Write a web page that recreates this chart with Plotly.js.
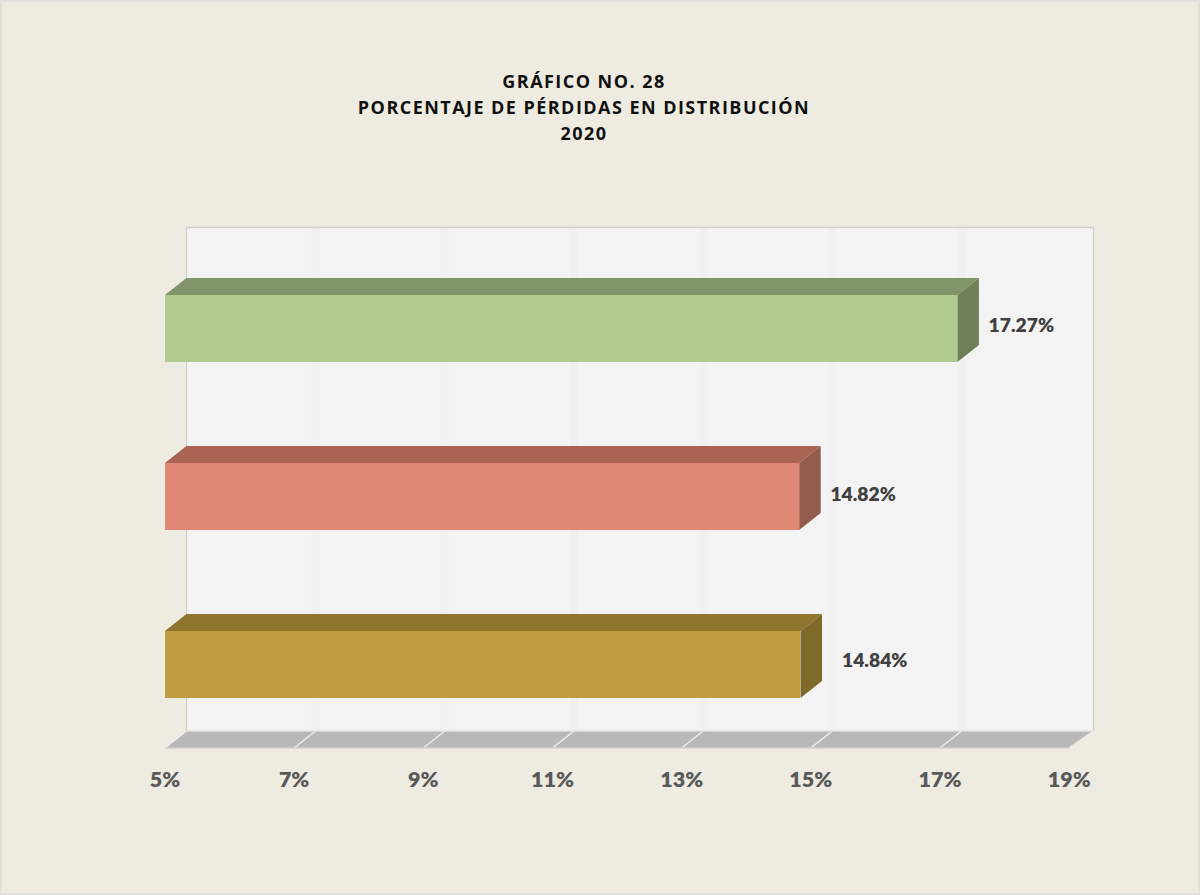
<!DOCTYPE html>
<html>
<head>
<meta charset="utf-8">
<script src="https://cdn.plot.ly/plotly-3.0.1.min.js"></script>
<style>html,body{margin:0;padding:0;background:#EEECE1}#chart{width:1200px;height:895px}</style>
</head>
<body>
<div id="chart"></div>
<script>
// Data (bottom to top)
const rows = [0, 1, 2];
const values = [14.84, 14.82, 17.27];
const valueLabels = ['14.84%', '14.82%', '17.27%'];
const tickValues = [5, 7, 9, 11, 13, 15, 17, 19];
const tickLabels = ['5%', '7%', '9%', '11%', '13%', '15%', '17%', '19%'];
const titleLines = ['GRÁFICO NO. 28', 'PORCENTAJE DE PÉRDIDAS EN DISTRIBUCIÓN', '2020'];

// Styles
const frontColors = ['#BE9C3F', '#E08876', '#B1CB8F'];
const topColors = ['#8F742D', '#AB6353', '#82956A'];
const sideColors = ['#7F6A2A', '#945C4E', '#6F8058'];

// Pseudo-3D geometry in axis units
const xMin = 5, xMax = 19.378, yMin = -0.497, yMax = 2.601;
const barWidth = 0.4;
const depthX = 0.333, depthY = 0.101;
const labelGap = [0.31, 0.15, 0.15];
const labelLift = [0.014, 0.002, 0.008];

const traces = [];
traces.push({
  type: 'bar', orientation: 'h', y: rows, x: values.map(v => v - xMin), base: xMin, width: barWidth,
  marker: {color: frontColors, line: {width: 0}},
  hoverinfo: 'skip', showlegend: false
});
rows.forEach((r, i) => {
  const v = values[i], lo = r - barWidth / 2, hi = r + barWidth / 2;
  traces.push({
    type: 'scatter', mode: 'lines', fill: 'toself', fillcolor: topColors[i],
    x: [xMin, v, v + depthX, xMin + depthX, xMin],
    y: [hi, hi, hi + depthY, hi + depthY, hi],
    line: {width: 0, color: topColors[i]}, hoverinfo: 'skip', showlegend: false
  });
  traces.push({
    type: 'scatter', mode: 'lines', fill: 'toself', fillcolor: sideColors[i],
    x: [v, v + depthX, v + depthX, v, v],
    y: [lo, lo + depthY, hi + depthY, hi, lo],
    line: {width: 0, color: sideColors[i]}, hoverinfo: 'skip', showlegend: false
  });
});
traces.push({
  type: 'scatter', mode: 'text',
  x: values.map((v, i) => v + depthX + labelGap[i]),
  y: rows.map((r, i) => r + labelLift[i]),
  text: valueLabels, textposition: 'middle right',
  textfont: {family: 'Lato, sans-serif', size: 19.3, weight: 800, color: '#404040'},
  hoverinfo: 'skip', showlegend: false, cliponaxis: false
});

// Chart furniture: back wall, floor, gridlines
const wallBottom = yMin + depthY;
const shapes = [
  {type: 'path', layer: 'below', xref: 'x', yref: 'y',
   path: `M${xMin + depthX},${wallBottom} L${xMin + depthX},${yMax} L${xMax},${yMax} L${xMax},${wallBottom} Z`,
   fillcolor: '#F3F3F3', line: {width: 0}},
  {type: 'path', layer: 'below', xref: 'x', yref: 'y',
   path: `M${xMin},${yMin} L${xMin + depthX},${wallBottom} L${xMax},${wallBottom} L19,${yMin} Z`,
   fillcolor: '#B8B8B8', line: {width: 0}}
];
tickValues.forEach((t, k) => {
  if (k > 0 && k < tickValues.length - 1) {
    shapes.push({type: 'line', layer: 'below', xref: 'x', yref: 'y',
      x0: t + depthX, x1: t + depthX, y0: wallBottom, y1: yMax,
      line: {color: '#F0F0F0', width: 8}});
  }
  shapes.push({type: 'line', layer: 'below', xref: 'x', yref: 'y',
    x0: t, x1: k === tickValues.length - 1 ? xMax : t + depthX, y0: yMin, y1: wallBottom,
    line: {color: '#EDEDED', width: 1.5}});
});
shapes.push(
  {type: 'line', layer: 'below', xref: 'x', yref: 'y', x0: xMin + depthX, x1: xMax, y0: yMax, y1: yMax,
   line: {color: '#CFCEC4', width: 1.5}},
  {type: 'line', layer: 'below', xref: 'x', yref: 'y', x0: xMin + depthX, x1: xMin + depthX, y0: wallBottom, y1: yMax,
   line: {color: '#CFCEC4', width: 1.2}},
  {type: 'line', layer: 'below', xref: 'x', yref: 'y', x0: xMax, x1: xMax, y0: wallBottom, y1: yMax,
   line: {color: '#CFCEC4', width: 1.2}},
  {type: 'line', layer: 'below', xref: 'x', yref: 'y', x0: xMin + depthX, x1: xMax, y0: wallBottom, y1: wallBottom,
   line: {color: '#E2E2E0', width: 1.5}},
  {type: 'line', layer: 'below', xref: 'x', yref: 'y', x0: xMin, x1: 19, y0: yMin, y1: yMin,
   line: {color: '#D0D0CC', width: 1.5}}
);

const layout = {
  width: 1200, height: 895,
  paper_bgcolor: '#EEECE1', plot_bgcolor: 'rgba(0,0,0,0)',
  margin: {l: 162.56, r: 105.26, t: 226, b: 145, pad: 0},
  showlegend: false, bargap: 0,
  title: {
    text: titleLines.join('<br>'),
    font: {family: '"Open Sans", sans-serif', size: 18, weight: 700, color: '#111111'},
    x: 584 / 1200, xanchor: 'center', xref: 'container',
    y: 1 - 88 / 895, yanchor: 'bottom', yref: 'container'
  },
  xaxis: {
    range: [4.97, 19.4], tickmode: 'array', tickvals: tickValues, ticktext: tickLabels,
    showgrid: false, zeroline: false, showline: false,
    ticks: 'outside', ticklen: 10, tickcolor: 'rgba(0,0,0,0)', tickwidth: 0,
    tickfont: {family: 'Lato, sans-serif', size: 21.5, weight: 800, color: '#595959'},
    automargin: false, fixedrange: true
  },
  yaxis: {
    range: [-0.509, 2.61], showticklabels: false, showgrid: false, zeroline: false,
    showline: false, ticks: '', automargin: false, fixedrange: true
  },
  shapes: shapes
};

Plotly.newPlot('chart', traces, layout, {staticPlot: true, displayModeBar: false}).then(() => {
  const title = document.querySelector('.gtitle');
  if (title) {
    title.style.letterSpacing = '1.45px';
    title.querySelectorAll('tspan.line').forEach((t, i) => { t.setAttribute('dy', (i * 26) + 'px'); });
  }
  // Thin pale frame around the whole picture
  const svg = document.querySelector('.main-svg');
  if (svg) { svg.style.outline = '2px solid #E0E0DC'; svg.style.outlineOffset = '-2px'; }
});
</script>
</body>
</html>
